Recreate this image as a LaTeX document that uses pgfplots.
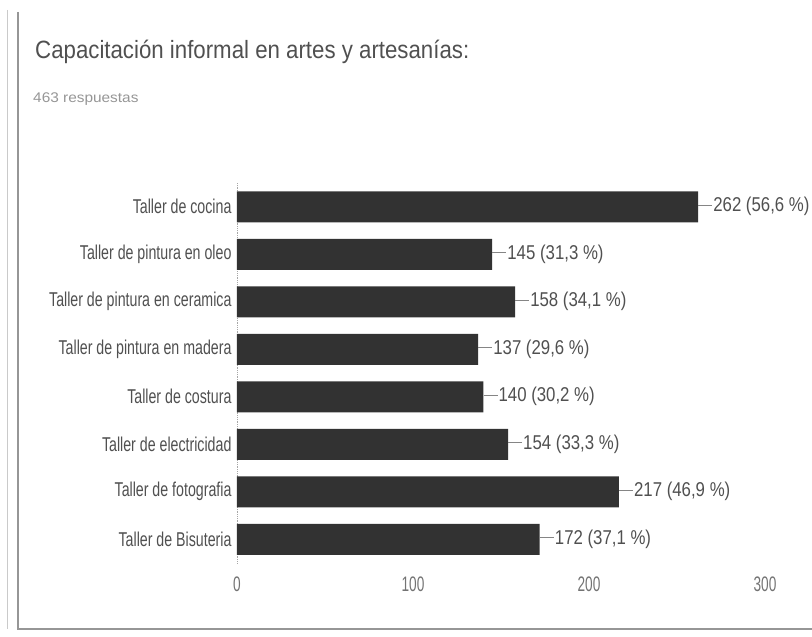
\documentclass[border=0pt]{standalone}
\usepackage{fontspec}
\setmainfont{Liberation Sans}
\usepackage{pgfplots}
\pgfplotsset{compat=1.18}
\usepackage{pgfplotstable}

\newfontfamily\titlefont[FakeStretch=0.89]{Liberation Sans}
\newfontfamily\labfont[FakeStretch=0.71]{Liberation Sans}
\newfontfamily\valfont[FakeStretch=0.84]{Liberation Sans}
\newfontfamily\tickfont[FakeStretch=0.65]{Liberation Sans}
\newfontfamily\subfont[FakeStretch=1.1]{Liberation Sans}

\definecolor{barcol}{RGB}{50,50,50}
\definecolor{txtcol}{RGB}{80,80,80}
\definecolor{subcol}{RGB}{150,150,150}
\definecolor{framecol}{RGB}{150,150,150}

\pgfplotstableread[col sep=semicolon,row sep=\\]{
y;v;lab\\
0;262;262 (56,6 \%)\\
1;145;145 (31,3 \%)\\
2;158;158 (34,1 \%)\\
3;137;137 (29,6 \%)\\
4;140;140 (30,2 \%)\\
5;154;154 (33,3 \%)\\
6;217;217 (46,9 \%)\\
7;172;172 (37,1 \%)\\
}\datatable

\begin{document}
\begin{tikzpicture}
\useasboundingbox (0pt,0pt) rectangle (812pt,637pt);
% page frame (left and bottom edges of the scanned card)
\draw[framecol!50, line width=0.8pt] (7pt,637pt-10pt) -- (7pt,637pt-629pt);
\draw[framecol, line width=1.2pt] (18pt,637pt-12pt) -- (18pt,637pt-629pt) -- (812pt,637pt-629pt);

\node[anchor=base west, inner sep=0pt, text=txtcol] at (35pt,637pt-59pt)
  {\titlefont\fontsize{25pt}{30pt}\selectfont Capacitación informal en artes y artesanías:};
\node[anchor=base west, inner sep=0pt, text=subcol] at (33pt,637pt-103pt)
  {\subfont\fontsize{14pt}{17pt}\selectfont 463 respuestas};

\begin{axis}[
  at={(237pt,74pt)}, anchor=south west,
  scale only axis, width=528pt, height=380pt,
  xbar, bar width=31pt,
  y dir=reverse,
  xmin=0, xmax=300, ymin=-0.5, ymax=7.5,
  enlargelimits=false, clip=false,
  axis lines*=left,
  x axis line style={draw=none},
  y axis line style={draw=gray!70, densely dotted, line width=0.8pt},
  major tick length=0pt, tick style={draw=none},
  xtick={0,100,200,300},
  ytick={0,...,7},
  /pgf/number format/assume math mode=true,
  yticklabels={Taller de cocina,Taller de pintura en oleo,Taller de pintura en ceramica,Taller de pintura en madera,Taller de costura,Taller de electricidad,Taller de fotografia,Taller de Bisuteria},
  xticklabel style={font=\tickfont\fontsize{21pt}{24pt}\selectfont, text=txtcol!80, yshift=-10pt},
  yticklabel style={font=\labfont\fontsize{20pt}{24pt}\selectfont, text=txtcol, xshift=-2pt},
  point meta=explicit symbolic,
  nodes near coords={\textcolor{txtcol!70}{\rule[0.33em]{14pt}{0.8pt}}\hspace{1pt}\pgfplotspointmeta},
  every node near coord/.append style={anchor=west, inner sep=0pt, xshift=0pt,
     font=\valfont\fontsize{20pt}{24pt}\selectfont, text=txtcol},
]
\addplot[fill=barcol, draw=none] table[x=v, y=y, meta=lab] {\datatable};
\end{axis}
\end{tikzpicture}
\end{document}
